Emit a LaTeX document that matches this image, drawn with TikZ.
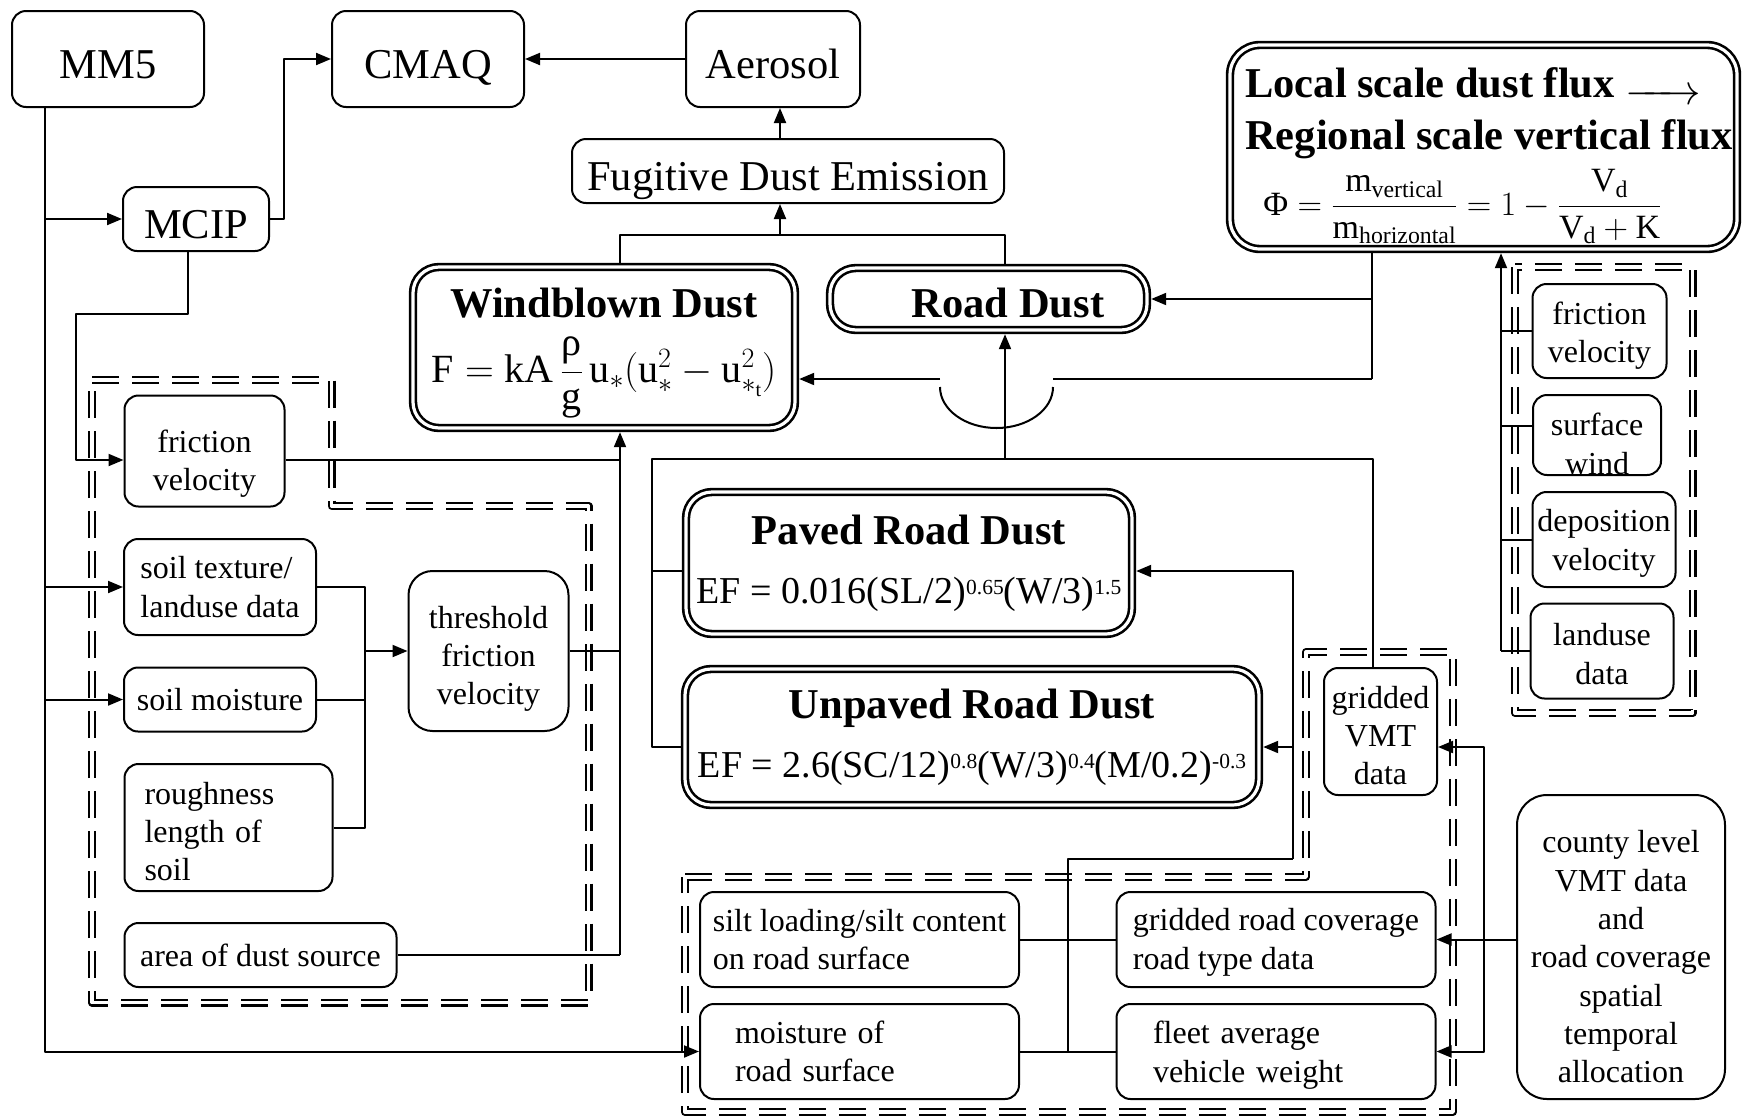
\documentclass[tikz,border=0pt]{standalone}
\usepackage{fix-cm}
\usepackage{amsmath}
\usepackage{fontspec}
\setmainfont{Liberation Serif}
\usetikzlibrary{arrows.meta}
\newcommand\dropto[1]{\rule{0pt}{#1pt}}
\newcommand\pw[1]{\raisebox{9pt}{\fontsize{21.5}{21.5}\selectfont #1}}
\tikzset{
	box/.style={draw, line width=2pt, rounded corners=14pt, align=center, inner sep=2pt, font=\fontsize{32}{38.3}\selectfont},
	bigbox/.style={box, font=\fontsize{42.5}{50}\selectfont, text height=38pt, text depth=0pt},
	dbox/.style={draw, double, line width=2.6pt, double distance=3.2pt, outer sep=4.2pt, rounded corners=26pt, align=center, inner sep=2pt},
	zone/.style={double, line width=2.3pt, double distance=3.4pt, dash pattern=on 27pt off 13pt},
	link/.style={line width=2pt},
}
\begin{document}
\begin{tikzpicture}[x=1pt, y=-1pt, >={Triangle[length=15pt,width=12pt]}, line join=round]
	\useasboundingbox (0,0) rectangle (1742,1117);
	%Dashed groups
	\draw[zone] (92,380) -- (331.5,380) -- (331.5,506) -- (588.5,506) -- (588.5,1002.5) -- (92,1002.5) -- cycle;
	\draw[zone] (1515,267) rectangle (1692.5,713);
	\draw[zone] (685,877) -- (1306,877) -- (1306,652) -- (1453,652) -- (1453,1112) -- (685,1112) -- cycle;
	%Models
	\node[bigbox, minimum width=192pt, minimum height=96pt] (mm5) at (108,59) {MM5};
	\node[bigbox, minimum width=192pt, minimum height=96pt] (cmaq) at (428,59) {CMAQ};
	\node[bigbox, minimum width=174pt, minimum height=96pt] (aer) at (773,59) {Aerosol};
	\node[bigbox, minimum width=146pt, minimum height=64pt] (mcip) at (196,219) {MCIP};
	\node[bigbox, minimum width=432pt, minimum height=64pt] (fug) at (788,171) {Fugitive Dust Emission};
	%Dust sources
	\node[dbox, minimum width=382pt, minimum height=161pt, font=\fontsize{40}{65}\selectfont] (wind) at (604,347.5)
		{\dropto{41}{\bfseries\fontsize{42.5}{65}\selectfont Windblown Dust}\\
		$\mathrm{F}=\mathrm{kA}\,\dfrac{\text{ρ}}{\mathrm{g}}\,\mathrm{u}_{*}(\mathrm{u}_{*}^{2}-\mathrm{u}_{*_{\mathrm{t}}}^{2})$};
	\node[dbox, minimum width=317pt, minimum height=62pt, text height=37pt, text depth=0pt, font=\bfseries\fontsize{42.5}{50}\selectfont] (road) at (988.5,299) {\hspace*{39pt}Road Dust};
	\node[dbox, minimum width=446pt, minimum height=142pt, font=\fontsize{38}{59}\selectfont] (paved) at (909,563)
		{{\bfseries\fontsize{42.5}{59}\selectfont Paved Road Dust}\\
		EF = 0.016(SL/2)\pw{0.65}(W/3)\pw{1.5}};
	\node[dbox, minimum width=574pt, minimum height=136pt, font=\fontsize{38}{59}\selectfont] (unpaved) at (972,737)
		{{\bfseries\fontsize{42.5}{59}\selectfont Unpaved Road Dust}\\
		EF = 2.6(SC/12)\pw{0.8}(W/3)\pw{0.4}(M/0.2)\pw{-0.3}};
	\node[dbox, minimum width=507pt, minimum height=204pt, rounded corners=30pt, align=left, font=\bfseries\fontsize{42.5}{52}\selectfont] (flux) at (1483.5,147)
		{\dropto{47}\hspace*{11pt}Local scale dust flux \raisebox{-7pt}{$\xrightarrow{\hspace{52pt}}$}\\
		\hspace*{11pt}Regional scale vertical flux\hspace*{-11pt}\\[10pt]
		\hspace*{29pt}\mdseries\fontsize{34}{42}\selectfont $\text{Φ}=\dfrac{\mathrm{m}_{\mathrm{vertical}}}{\mathrm{m}_{\mathrm{horizontal}}}=1-\dfrac{\mathrm{V}_{\mathrm{d}}}{\mathrm{V}_{\mathrm{d}}+\mathrm{K}}$};
	%Windblown inputs
	\node[box, minimum width=160pt, minimum height=111pt] (fricL) at (204.5,451) {\dropto{48}friction\\velocity};
	\node[box, minimum width=192pt, minimum height=96pt, align=left] (soil) at (220,587) {soil texture/\\landuse data};
	\node[box, minimum width=192pt, minimum height=64pt] (soilm) at (220,699.5) {soil moisture};
	\node[box, minimum width=208pt, minimum height=127pt, align=left, text width=168pt] (rough) at (228.5,827.5) {\dropto{30}roughness\\length of\\soil};
	\node[box, minimum width=272pt, minimum height=64pt] (area) at (260.5,955) {area of dust source};
	\node[box, minimum width=160pt, minimum height=160pt, rounded corners=24pt] (thresh) at (488.5,651) {\dropto{38}threshold\\friction\\velocity};
	%Deposition inputs
	\node[box, minimum width=134pt, minimum height=94pt] (fricR) at (1599.5,331) {\dropto{32}friction\\velocity};
	\node[box, minimum width=128pt, minimum height=80pt, inner ysep=0pt] (swind) at (1597,435) {\dropto{40}surface\\wind};
	\node[box, minimum width=143pt, minimum height=95pt] (depo) at (1604,539.5) {\dropto{30}deposition\\velocity};
	\node[box, minimum width=143pt, minimum height=95pt] (landuse) at (1602,651) {\dropto{28}landuse\\data};
	%Road inputs
	\node[box, minimum width=113pt, minimum height=127pt] (vmt) at (1380.5,731.5) {\dropto{30}gridded\\VMT\\data};
	\node[box, minimum width=319pt, minimum height=95pt, align=left] (silt) at (859.5,939.5) {silt loading/silt content\\on road surface};
	\node[box, minimum width=319pt, minimum height=95pt, align=left] (grcov) at (1276,939.5) {\dropto{28}gridded road coverage\\road type data};
	\node[box, minimum width=319pt, minimum height=95pt, align=left, text width=249pt] (roadm) at (859.5,1051.5) {moisture of\\road surface};
	\node[box, minimum width=319pt, minimum height=95pt, align=left, text width=246pt] (fleet) at (1276,1051.5) {\dropto{30}fleet average\\vehicle weight};
	\node[box, minimum width=208pt, minimum height=304pt, rounded corners=30pt] (county) at (1621,947) {\dropto{42}county level\\VMT data\\and\\road coverage\\spatial\\temporal\\allocation};
	%Junction points
	\coordinate (trunk) at (45,107);
	\coordinate (fv) at (76,460);
	\coordinate (wb) at (620,955);
	\coordinate (st) at (365,651);
	\coordinate (fe) at (780,235);
	\coordinate (rd) at (1005,459);
	\coordinate (vt) at (1373,459);
	\coordinate (pr) at (652,459);
	\coordinate (pv) at (652,571);
	\coordinate (up) at (652,747);
	\coordinate (fx) at (1372,379);
	\coordinate (hop) at (1005,379);
	\coordinate (dv) at (1501,651);
	\coordinate (sw) at (1501,426);
	\coordinate (rj) at (1068,859);
	\coordinate (rk) at (1293,859);
	\coordinate (pa) at (1293,571);
	\coordinate (ua) at (1293,747);
	\coordinate (cv) at (1484,747);
	%MM5 and MCIP
	\draw[link,->] (trunk) |- (roadm.west);
	\foreach \n in {mcip,soil,soilm}
	\draw[link,->] (trunk |- \n.west) -- (\n.west);
	\draw[link,->] (mcip.east) -- ++(14,0) |- (cmaq.west);
	\draw[link,->] ([xshift=-8pt]mcip.south) |- (76,314) -- (fv) -- (fv -| fricL.west);
	\draw[link,->] (aer.west) -- (cmaq.east);
	%Windblown dust
	\draw[link] (fricL.east |- fv) -- (fv -| wb);
	\draw[link] (area.east) -- (wb);
	\draw[link,->] (wb) -- (wb |- wind.south);
	\draw[link] (thresh.east) -- (thresh.east -| wb);
	\draw[link] (soil.east) -| (st |- rough.east) -- (rough.east);
	\draw[link] (soilm.east) -- (soilm.east -| st);
	\draw[link,->] (st) -- (thresh.west);
	%Fugitive dust
	\draw[link] (wb |- wind.north) |- (rd |- fe) -- (rd |- road.north);
	\draw[link,->] (fe) -- (fe |- fug.south);
	\draw[link,->] (fe |- fug.north) -- (fe |- aer.south);
	%Road dust
	\draw[link] (vt |- vmt.north) -- (vt) -- (pr) -- (up) -- (up -| unpaved.west);
	\draw[link] (pv) -- (pv -| paved.west);
	\draw[link,->] (rd) -- (rd |- road.south);
	%Vertical flux
	\draw[link] (fx |- flux.south) -- (fx);
	\draw[link,->] (fx |- road.east) -- (road.east);
	\draw[link] (fx) -- ([xshift=48pt]hop);
	\draw[link] ([shift={(48pt,-8pt)}]hop) arc[start angle=0, end angle=-180, x radius=56.5pt, y radius=41pt];
	\draw[link,->] ([xshift=-65pt]hop) -- (hop -| wind.east);
	\draw[link,->] (dv) -- (dv |- flux.south);
	\foreach \n in {fricR,depo,landuse}
	\draw[link] (dv |- \n.west) -- (\n.west);
	\draw[link] (sw) -- (sw -| swind.west);
	%Road inputs
	\draw[link] (silt.east) -- (grcov.west);
	\draw[link] (roadm.east) -- (fleet.west);
	\draw[link] (rj |- roadm.east) -- (rj) -- (rk);
	\draw[link,->] (rk) -- (pa) -- (pa -| paved.east);
	\draw[link,->] (ua) -- (ua -| unpaved.east);
	\draw[link,->] (county.west |- grcov.east) -- (grcov.east);
	\draw[link,->] (cv |- grcov.east) -- (cv) -- (cv -| vmt.east);
	\draw[link,->] (cv |- grcov.east) -- (cv |- fleet.east) -- (fleet.east);
\end{tikzpicture}
\end{document}
